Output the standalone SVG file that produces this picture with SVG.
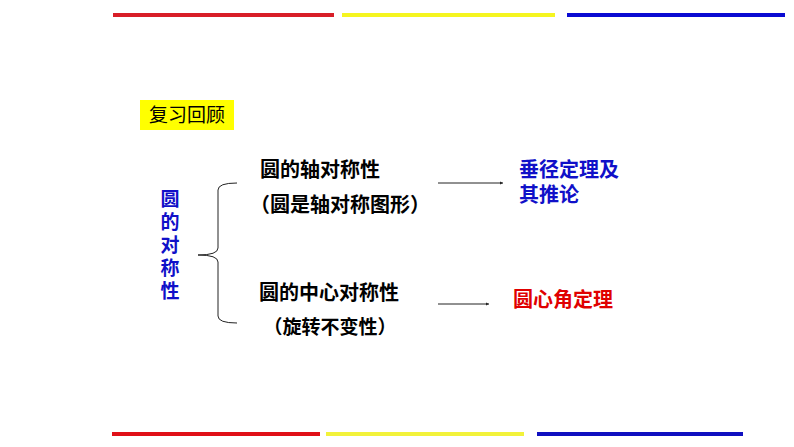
<svg xmlns="http://www.w3.org/2000/svg" width="794" height="447" viewBox="0 0 794 447">
<style>
text{font-family:"Noto Sans CJK SC","Liberation Sans",sans-serif;font-weight:bold;font-size:20px;}
.blk{fill:#000;}
.blue{fill:#1010C8;}
.red{fill:#E00000;}
.conn{stroke:#222;stroke-width:1;fill:none;}
.vert{writing-mode:vertical-rl;letter-spacing:4px;font-size:19px;}
</style>
<defs>
<marker id="ah" markerWidth="4" markerHeight="4" refX="3" refY="2" orient="auto" markerUnits="userSpaceOnUse">
<path d="M0,0.5 L3,2 L0,3.5 Z" fill="#222"/>
</marker>
</defs>
<rect width="794" height="447" fill="#fff"/>
<g id="bars">
<rect x="113" y="13" width="221" height="4" fill="#D81E28"/>
<rect x="342" y="13" width="213" height="4" fill="#F5F520"/>
<rect x="567" y="13" width="218" height="4" fill="#0A0AD2"/>
<rect x="112" y="432" width="208" height="4" fill="#E01018"/>
<rect x="326" y="432" width="198" height="4" fill="#F2F23A"/>
<rect x="537" y="432" width="206" height="4" fill="#1010C0"/>
</g>
<g id="review">
<rect x="140" y="100" width="94" height="30" fill="#FFFF00"/>
<text x="187" y="122" text-anchor="middle" style="font-weight:normal;font-size:19px" class="blk">复习回顾</text>
</g>
<g id="left">
<text class="blue vert" x="170" y="189">圆的对称性</text>
</g>
<g id="brace">
<path class="conn" stroke="#666" d="M237,183 Q218,183 218,190 L218,248 Q218,255 198,255 Q218,255 218,262 L218,316 Q218,323 237,323"/>
</g>
<g id="axial">
<text class="blk" x="320" y="177" text-anchor="middle">圆的轴对称性</text>
<text class="blk" x="340" y="212" text-anchor="middle">（圆是轴对称图形）</text>
</g>
<g id="central">
<text class="blk" x="329" y="300" text-anchor="middle">圆的中心对称性</text>
<text class="blk" x="330" y="334" text-anchor="middle" style="font-size:19px">（旋转不变性）</text>
</g>
<g id="chord">
<text class="blue" x="519" y="177">垂径定理及</text>
<text class="blue" x="519" y="202">其推论</text>
</g>
<g id="angle">
<text class="red" x="513" y="307">圆心角定理</text>
</g>
<g id="connectors">
<line class="conn" x1="438" y1="183" x2="503" y2="183" marker-end="url(#ah)"/>
<line class="conn" x1="438" y1="304" x2="489" y2="304" marker-end="url(#ah)"/>
</g>
</svg>
